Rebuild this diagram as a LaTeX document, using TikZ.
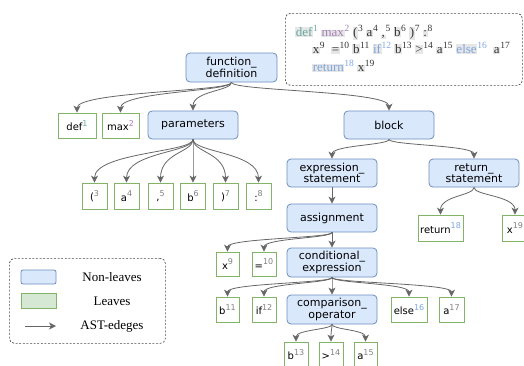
\documentclass[tikz,border=0pt]{standalone}
\usepackage{fontspec}
\setmainfont{Liberation Serif}
\newfontfamily\dvs{DejaVu Sans}
\usetikzlibrary{arrows.meta,calc}
\definecolor{nlf}{HTML}{DAE8FC}
\definecolor{nlb}{HTML}{6C8EBF}
\definecolor{lfb}{HTML}{82B366}
\definecolor{lff}{HTML}{D5E8D4}
\definecolor{edg}{HTML}{666666}
\definecolor{cteal}{HTML}{67AB9F}
\definecolor{cpurp}{HTML}{A680B8}
\definecolor{cblue}{HTML}{7EA6E0}
\definecolor{sgray}{HTML}{808080}
\definecolor{hl}{HTML}{E6E6E6}
\definecolor{ctxt}{HTML}{333333}
\newcommand\lsp[2]{\raisebox{4.5pt}{\fontsize{8}{8}\selectfont\textcolor{#1}{#2}}}
\newcommand\tk[4]{{\setlength\fboxsep{0.6pt}\colorbox{hl}{\textcolor{#1}{#2}}}\raisebox{5.5pt}{\fontsize{9.5}{9.5}\selectfont\textcolor{#3}{#4}}}
\tikzset{
  nonleaf/.style={draw=nlb, fill=nlf, line width=0.8pt, rounded corners=4pt, inner sep=0pt,
    minimum width=90pt, minimum height=28pt, align=center,
    font=\dvs\fontsize{11}{11.5}\selectfont},
  leaf/.style={draw=lfb, fill=white, line width=0.8pt, inner sep=0pt, minimum height=25pt,
    minimum width=24pt, font=\dvs\fontsize{10}{12}\selectfont},
  edge/.style={draw=edg, line width=0.8pt, -{Stealth[length=7pt,width=7pt,inset=2pt]}},
  curv/.style={to path={let \p1=(\tikztostart), \p2=(\tikztotarget) in
    .. controls (\x1,{\y1+0.3*(\y2-\y1)}) and (\x2,{\y1+0.3*(\y2-\y1)}) .. (\tikztotarget) \tikztonodes}},
  dashbox/.style={draw=black!70, line width=0.7pt, dash pattern=on 2pt off 1.6pt, rounded corners=5pt,
    inner sep=0pt},
  codeline/.style={anchor=base west, inner sep=0pt, font=\fontsize{13}{13}\selectfont, text=ctxt},
  legtext/.style={inner sep=0pt, font=\fontsize{13}{13}\selectfont},
}
\begin{document}
\begin{tikzpicture}[x=1pt,y=-1pt]
\useasboundingbox (0,0) rectangle (524,365);
% code box
\node[dashbox, anchor=north west, minimum width=237pt, minimum height=72pt] (codebox) at (285,13) {};
\node[codeline] (l1) at (295,36.5) {\tk{cteal}{def}{cteal}{1} \tk{cpurp}{max}{cpurp}{2} \tk{ctxt}{(}{ctxt}{3} \tk{ctxt}{a}{ctxt}{4} \tk{ctxt}{,}{ctxt}{5} \tk{ctxt}{b}{ctxt}{6} \tk{ctxt}{)}{ctxt}{7} \tk{ctxt}{:}{ctxt}{8}};
\node[codeline] (l2) at (312,53.5) {\tk{ctxt}{x}{ctxt}{9} \ \tk{ctxt}{=}{ctxt}{10} \tk{ctxt}{b}{ctxt}{11} \tk{cblue}{if}{cblue}{12} \tk{ctxt}{b}{ctxt}{13} \tk{ctxt}{>}{ctxt}{14} \tk{ctxt}{a}{ctxt}{15} \tk{cblue}{else}{cblue}{16} \ \tk{ctxt}{a}{ctxt}{17}};
\node[codeline] (l3) at (312,71.5) {\tk{cblue}{return}{cblue}{18} \tk{ctxt}{x}{ctxt}{19}};
% tree
\node[nonleaf, minimum width=91pt, minimum height=29pt] (fd) at (231.5,67.5) {function\_\\definition};
\node[leaf, minimum width=38pt] (def) at (77,125.5) {def\lsp{cteal}{1}};
\node[leaf, minimum width=37pt] (max) at (120.5,125.5) {max\lsp{cpurp}{2}};
\node[nonleaf] (par) at (193,125) {parameters};
\node[nonleaf] (blk) at (389,125) {block};
\node[leaf, minimum width=25pt, minimum height=26pt] (p3) at (94.5,196) {(\lsp{sgray}{3}};
\node[leaf, minimum width=25pt, minimum height=26pt] (p4) at (126.5,196) {a\lsp{sgray}{4}};
\node[leaf, minimum width=25pt, minimum height=26pt] (p5) at (160.5,196) {,\lsp{sgray}{5}};
\node[leaf, minimum width=25pt, minimum height=26pt] (p6) at (193,196) {b\lsp{sgray}{6}};
\node[leaf, minimum width=25pt, minimum height=26pt] (p7) at (225.5,196) {)\lsp{sgray}{7}};
\node[leaf, minimum width=25pt, minimum height=26pt] (p8) at (258.5,196) {:\lsp{sgray}{8}};
\node[nonleaf] (exs) at (332,173) {expression\_\\statement};
\node[nonleaf] (rst) at (474,173) {return\_\\statement};
\node[nonleaf] (asg) at (332,218) {assignment};
\node[leaf, minimum width=45pt, minimum height=26pt] (r18) at (440.5,228) {return\lsp{cblue}{18}};
\node[leaf, minimum width=26pt, minimum height=26pt] (x19) at (515,228) {x\lsp{sgray}{19}};
\node[leaf, minimum width=23pt, minimum height=24pt] (x9) at (227.5,264) {x\lsp{sgray}{9}};
\node[leaf, minimum width=24pt, minimum height=24pt] (e10) at (264,264) {=\lsp{sgray}{10}};
\node[nonleaf, minimum height=29pt] (cex) at (332,262.5) {conditional\_\\expression};
\node[leaf, minimum width=23pt] (b11) at (227.5,309.5) {b\lsp{sgray}{11}};
\node[leaf, minimum width=24pt] (i12) at (264,309.5) {if\lsp{sgray}{12}};
\node[nonleaf, minimum height=29pt] (cop) at (332,309.5) {comparison\_\\operator};
\node[leaf, minimum width=36pt] (e16) at (409,309.5) {else\lsp{cblue}{16}};
\node[leaf, minimum width=25pt] (a17) at (451.5,309.5) {a\lsp{sgray}{17}};
\node[leaf, minimum width=24pt] (b13) at (296,354.5) {b\lsp{sgray}{13}};
\node[leaf, minimum width=24pt] (g14) at (331,354.5) {>\lsp{sgray}{14}};
\node[leaf, minimum width=23pt] (a15) at (365.5,354.5) {a\lsp{sgray}{15}};
% edges
\foreach \c in {def,max,par,blk} \draw[edge] (fd.south) to[curv] (\c.north);
\foreach \c in {p3,p4,p5,p6,p7,p8} \draw[edge] (par.south) to[curv] (\c.north);
\foreach \c in {exs,rst} \draw[edge] (blk.south) to[curv] (\c.north);
\draw[edge] (exs.south) to[curv] (asg.north);
\foreach \c in {r18,x19} \draw[edge] (rst.south) to[curv] (\c.north);
\foreach \c in {x9,e10,cex} \draw[edge] (asg.south) to[curv] (\c.north);
\foreach \c in {b11,i12,cop,e16,a17} \draw[edge] (cex.south) to[curv] (\c.north);
\foreach \c in {b13,g14,a15} \draw[edge] (cop.south) to[curv] (\c.north);
% legend
\node[dashbox, anchor=north west, minimum width=156pt, minimum height=85pt] (leg) at (9,258) {};
\node[draw=nlb, fill=nlf, line width=0.8pt, rounded corners=2pt, minimum width=35pt, minimum height=14pt, inner sep=0pt] (lnl) at (38.5,277) {};
\node[draw=lfb, fill=lff, line width=0.8pt, minimum width=35pt, minimum height=15pt, inner sep=0pt] (llf) at (38.5,300.5) {};
\coordinate (la) at (25,326);
\coordinate (lb) at (56,326);
\draw[edge] (la) -- (lb);
\node[legtext] (tnl) at (112,277) {Non-leaves};
\node[legtext] (tlf) at (112,301) {Leaves};
\node[legtext] (tae) at (112,326) {AST-edeges};
\end{tikzpicture}
\end{document}
